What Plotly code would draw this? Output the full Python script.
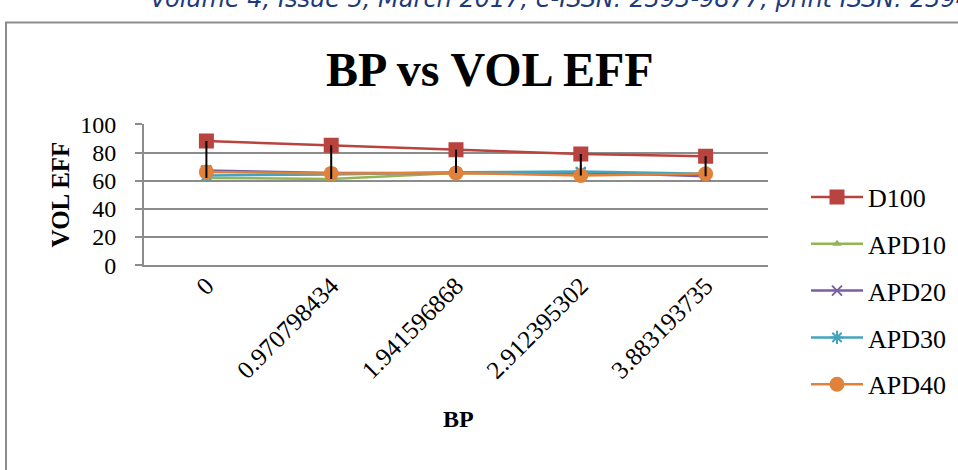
import plotly.graph_objects as go

W, H = 958, 470

# Brake power categories (x) and volumetric efficiency per blend (y)
bp_labels = ["0", "0.970798434", "1.941596868", "2.912395302", "3.883193735"]
d100 = [88.2, 85.2, 82.0, 79.0, 77.4]
apd10 = [62.0, 61.3, 65.5, 65.0, 64.5]
apd20 = [67.3, 65.5, 65.5, 66.0, 63.3]
apd30 = [63.8, 64.5, 66.0, 66.5, 65.0]
apd40 = [66.3, 65.2, 65.5, 63.8, 65.0]

series = [
    ("D100", d100, "#B8433F", dict(symbol="square", size=15)),
    ("APD10", apd10, "#92B556", dict(symbol="triangle-up", size=8)),
    ("APD20", apd20, "#7A5EA0", dict(symbol="x-thin", size=10, line=dict(width=2, color="#7A5EA0"))),
    ("APD30", apd30, "#44A3BE", dict(symbol="asterisk", size=11, line=dict(width=2, color="#44A3BE"))),
    ("APD40", apd40, "#E0823A", dict(symbol="circle", size=15)),
]

SERIF = "Liberation Serif, Times New Roman, serif"

fig = go.Figure()
for name, vals, color, mk in series:
    fig.add_trace(go.Scatter(
        x=bp_labels, y=vals, name=name, mode="lines+markers",
        line=dict(color=color, width=2.5),
        marker=dict(color=color, **mk),
        legendgroup=name,
    ))

# High-low lines: from the highest to the lowest series value in each category
hl_x, hl_y = [], []
all_vals = [s[1] for s in series]
for j, lab in enumerate(bp_labels):
    col = [v[j] for v in all_vals]
    hl_x += [lab, lab, None]
    hl_y += [max(col), min(col), None]
fig.add_trace(go.Scatter(x=hl_x, y=hl_y, mode="lines", line=dict(color="black", width=2),
                         showlegend=False, hoverinfo="skip"))


def px_x(p):
    return p / W


def px_y(p):
    return 1 - p / H


fig.update_layout(
    width=W, height=H,
    margin=dict(l=0, r=0, t=0, b=0),
    paper_bgcolor="white", plot_bgcolor="white",
    font=dict(family=SERIF, color="black"),
    showlegend=True,
    legend=dict(
        x=px_x(806), y=px_y(170), xanchor="left", yanchor="top",
        font=dict(family=SERIF, size=26, color="black"),
        tracegroupgap=10, itemwidth=52,
        bgcolor="rgba(0,0,0,0)",
    ),
    xaxis=dict(
        domain=[px_x(144), px_x(768)],
        type="category",
        showgrid=False, zeroline=False,
        showline=True, linecolor="#8C8C8C", linewidth=2,
        ticks="", tickangle=-45,
        ticklabelstandoff=-6,
        tickfont=dict(family=SERIF, size=25, color="black"),
        range=[-0.5, 4.5],
    ),
    yaxis=dict(
        domain=[px_y(267), px_y(118)],
        range=[0, 100], dtick=20,
        showgrid=True, gridcolor="#8C8C8C", gridwidth=2,
        zeroline=False,
        showline=True, linecolor="#8C8C8C", linewidth=2,
        ticks="outside", ticklen=7, tickcolor="#8C8C8C", tickwidth=2,
        ticklabelstandoff=14,
        tickfont=dict(family=SERIF, size=24, color="black"),
    ),
    annotations=[
        dict(text="<b>BP vs VOL EFF</b>", xref="paper", yref="paper",
             x=px_x(490), y=px_y(60), xanchor="center", yanchor="middle",
             showarrow=False, font=dict(family=SERIF, size=48, color="black")),
        dict(text="<b>VOL EFF</b>", xref="paper", yref="paper",
             x=px_x(60), y=px_y(192), xanchor="center", yanchor="middle",
             textangle=-90, showarrow=False,
             font=dict(family=SERIF, size=25, color="black")),
        dict(text="<b>BP</b>", xref="paper", yref="paper",
             x=px_x(458), y=px_y(430), xanchor="center", yanchor="middle",
             showarrow=False, font=dict(family=SERIF, size=24, color="black")),
        dict(text="<i>Volume 4, Issue 5, March 2017, e-ISSN: 2393-9877, print ISSN: 2394-2444</i>",
             xref="paper", yref="paper",
             x=px_x(148), y=px_y(2), xanchor="left", yanchor="bottom",
             showarrow=False, font=dict(family="DejaVu Sans", size=24, color="#1F3A7A")),
    ],
    shapes=[
        dict(type="rect", xref="paper", yref="paper",
             x0=px_x(6), x1=1.05, y0=-0.05, y1=px_y(10),
             line=dict(color="#8C8C8C", width=2), fillcolor="rgba(0,0,0,0)", layer="below"),
    ],
)

fig.write_html("out.html")
